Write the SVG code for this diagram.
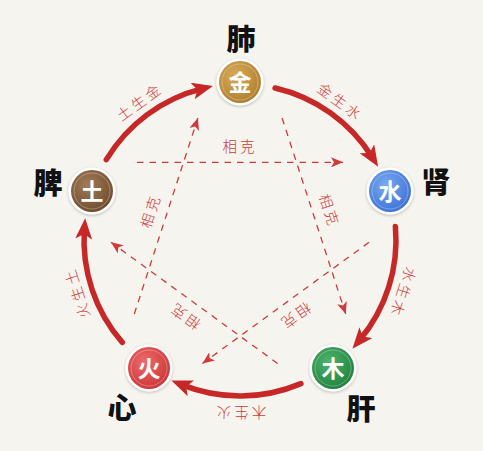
<svg xmlns="http://www.w3.org/2000/svg" width="483" height="451" viewBox="0 0 483 451">
  <defs>
    <style>
      .gen { fill: none; stroke: #c62828; stroke-width: 5.5; stroke-linecap: round; marker-end: url(#bigArrow); }
      .ke { fill: none; stroke: #d03a3a; stroke-width: 1.3; stroke-dasharray: 6.5 6; marker-end: url(#smallArrow); }
      .elabel { font-family: "Noto Sans CJK SC", "Noto Sans", sans-serif; font-size: 14.5px; font-weight: 300; fill: #cc3b3b; letter-spacing: 3px; text-anchor: middle; dominant-baseline: central; }
      .organ { font-family: "Noto Sans CJK SC", "Noto Sans", sans-serif; font-size: 29px; font-weight: 900; fill: #111; text-anchor: middle; dominant-baseline: central; }
      .elem { font-family: "Noto Sans CJK SC", "Noto Sans", sans-serif; font-size: 23px; font-weight: 700; fill: #fff; text-anchor: middle; dominant-baseline: central; }
      .ring { fill: #fff; filter: url(#shadow); }
      .inner { fill: none; stroke: #fff; stroke-opacity: 0.3; stroke-width: 1; }
    </style>
    <marker id="bigArrow" markerUnits="userSpaceOnUse" viewBox="0 0 21 17" markerWidth="21" markerHeight="17" refX="10" refY="8.5" orient="auto">
      <path d="M0,0 L21,8.5 L0,17 L5,8.5 Z" fill="#c62828"/>
    </marker>
    <marker id="smallArrow" markerUnits="userSpaceOnUse" viewBox="0 0 12 10" markerWidth="12" markerHeight="10" refX="12" refY="5" orient="auto">
      <path d="M0,0 L12,5 L0,10 L3,5 Z" fill="#d03a3a"/>
    </marker>
    <filter id="shadow" x="-30%" y="-30%" width="160%" height="160%">
      <feDropShadow dx="0" dy="1" stdDeviation="1.5" flood-color="#000" flood-opacity="0.25"/>
    </filter>
    <radialGradient id="gJin" cx="40%" cy="35%" r="70%">
      <stop offset="0" stop-color="#d9ab58"/>
      <stop offset="1" stop-color="#ad7d2c"/>
    </radialGradient>
    <radialGradient id="gShui" cx="40%" cy="35%" r="70%">
      <stop offset="0" stop-color="#7aa9f0"/>
      <stop offset="1" stop-color="#3b70d4"/>
    </radialGradient>
    <radialGradient id="gMu" cx="40%" cy="35%" r="70%">
      <stop offset="0" stop-color="#4db56b"/>
      <stop offset="1" stop-color="#1e7f3e"/>
    </radialGradient>
    <radialGradient id="gHuo" cx="40%" cy="35%" r="70%">
      <stop offset="0" stop-color="#ec6b6b"/>
      <stop offset="1" stop-color="#cc3333"/>
    </radialGradient>
    <radialGradient id="gTu" cx="40%" cy="35%" r="70%">
      <stop offset="0" stop-color="#a27b55"/>
      <stop offset="1" stop-color="#6d4b2d"/>
    </radialGradient>
  </defs>

  <rect width="483" height="451" fill="#f6f4ef"/>

  <g id="connectors">
    <path class="gen" d="M106.3,159.7 A156,156 0 0 1 202.3,88.6"/>
    <path class="gen" d="M275.1,88.0 A156,156 0 0 1 372.3,157.3"/>
    <path class="gen" d="M395.4,226.4 A156,156 0 0 1 359.5,340.3"/>
    <path class="gen" d="M300.9,383.6 A156,156 0 0 1 181.6,384.6"/>
    <path class="gen" d="M122.3,342.4 A156,156 0 0 1 84.4,229.1"/>

    <path class="ke" d="M137,162.3 L343,162.3"/>
    <path class="ke" d="M282.1,118.0 L345.7,314.0"/>
    <path class="ke" d="M369.0,242.3 L202.4,363.5"/>
    <path class="ke" d="M277.6,363.5 L111.0,242.3"/>
    <path class="ke" d="M134.3,314.0 L197.9,118.0"/>

    <text class="elabel" transform="translate(139,101) rotate(-36)">土生金</text>
    <text class="elabel" transform="translate(341,101) rotate(36)">金生水</text>
    <text class="elabel" transform="translate(404,293) rotate(108)">水生木</text>
    <text class="elabel" transform="translate(240,413) rotate(180)">木生火</text>
    <text class="elabel" transform="translate(76,293) rotate(252)">火生土</text>

    <text class="elabel" transform="translate(240,145)">相克</text>
    <text class="elabel" transform="translate(330.4,210.6) rotate(72)">相克</text>
    <text class="elabel" transform="translate(295.8,316.9) rotate(144)">相克</text>
    <text class="elabel" transform="translate(184.2,316.9) rotate(216)">相克</text>
    <text class="elabel" transform="translate(149.6,210.6) rotate(288)">相克</text>
  </g>

  <g id="node-jin">
    <circle class="ring" cx="240" cy="82" r="23.5"/>
    <circle cx="240" cy="82" r="21" fill="url(#gJin)"/>
    <circle class="inner" cx="240" cy="82" r="18"/>
    <text class="elem" x="240" y="81">金</text>
    <text class="organ" x="241" y="37">肺</text>
  </g>
  <g id="node-shui">
    <circle class="ring" cx="390" cy="191" r="23.5"/>
    <circle cx="390" cy="191" r="21" fill="url(#gShui)"/>
    <circle class="inner" cx="390" cy="191" r="18"/>
    <text class="elem" x="390" y="190">水</text>
    <text class="organ" x="436" y="180">肾</text>
  </g>
  <g id="node-mu">
    <circle class="ring" cx="333" cy="368" r="23.5"/>
    <circle cx="333" cy="368" r="21" fill="url(#gMu)"/>
    <circle class="inner" cx="333" cy="368" r="18"/>
    <text class="elem" x="333" y="367">木</text>
    <text class="organ" x="361" y="407">肝</text>
  </g>
  <g id="node-huo">
    <circle class="ring" cx="149" cy="368" r="23.5"/>
    <circle cx="149" cy="368" r="21" fill="url(#gHuo)"/>
    <circle class="inner" cx="149" cy="368" r="18"/>
    <text class="elem" x="149" y="367">火</text>
    <text class="organ" x="122" y="406">心</text>
  </g>
  <g id="node-tu">
    <circle class="ring" cx="92" cy="191" r="23.5"/>
    <circle cx="92" cy="191" r="21" fill="url(#gTu)"/>
    <circle class="inner" cx="92" cy="191" r="18"/>
    <text class="elem" x="92" y="190">土</text>
    <text class="organ" x="48" y="181">脾</text>
  </g>
</svg>
